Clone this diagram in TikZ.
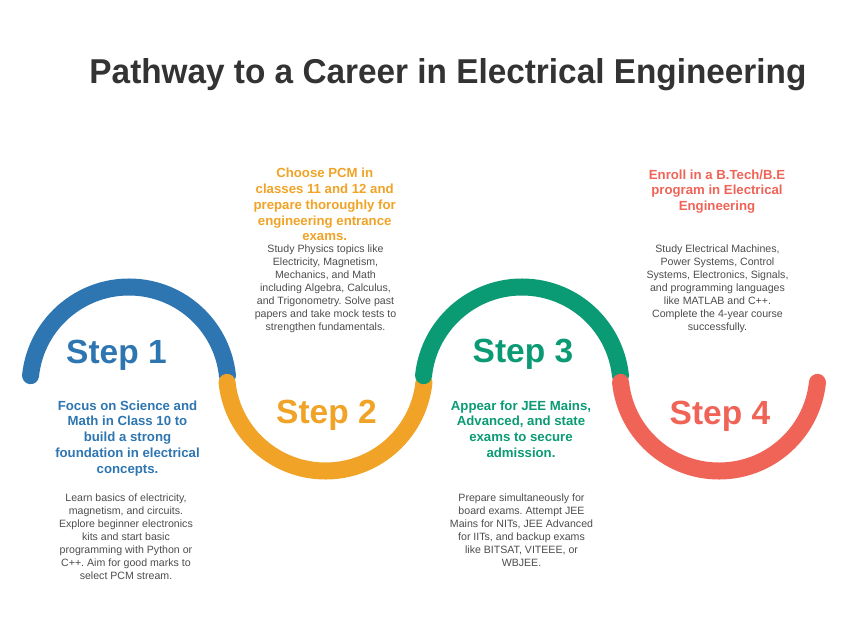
\documentclass[tikz,border=0pt]{standalone}
\usepackage{graphicx}
\usepackage{fontspec}
\setmainfont{Liberation Sans}
\frenchspacing
\definecolor{sblue}{RGB}{46,118,177}
\definecolor{sorange}{RGB}{240,163,38}
\definecolor{sgreen}{RGB}{11,155,116}
\definecolor{sred}{RGB}{240,100,88}
\definecolor{titlegray}{RGB}{51,51,51}
\definecolor{descgray}{RGB}{77,77,77}
\begin{document}
\begin{tikzpicture}[x=1pt,y=1pt,
 arcline/.style={line width=17pt,line cap=round},
 head/.style={font=\bfseries\fontsize{13.2}{15.8}\selectfont,align=center,anchor=north,inner sep=0pt},
 desc/.style={font=\fontsize{10.6}{13.1}\selectfont,align=center,anchor=north,inner sep=0pt,text=descgray},
 steplabel/.style={font=\bfseries\fontsize{33.5}{36}\selectfont,anchor=base,inner sep=0pt}]
\useasboundingbox (0,0) rectangle (844,-621);
\fill[white] (0,0) rectangle (844,-621);

\coordinate (c1) at (129,-386);
\coordinate (c2) at (325.5,-372);
\coordinate (c3) at (522,-386);
\coordinate (c4) at (719,-372);

\draw[arcline,sblue] ([shift={(174:99)}]c1) arc[start angle=174,end angle=6,radius=99];
\draw[arcline,sorange] ([shift={(186:99)}]c2) arc[start angle=186,end angle=354,radius=99];
\draw[arcline,sgreen] ([shift={(174:99)}]c3) arc[start angle=174,end angle=6,radius=99];
\draw[arcline,sred] ([shift={(186:99)}]c4) arc[start angle=186,end angle=354,radius=99];

\node[anchor=base,text=titlegray,inner sep=0pt] (title) at (448,-83)
  {\resizebox{717pt}{25pt}{\bfseries Pathway to a Career in Electrical Engineering}};

\node[steplabel,text=sblue] (s1) at (116.5,-363) {Step 1};
\node[steplabel,text=sorange] (s2) at (326.5,-423) {Step 2};
\node[steplabel,text=sgreen] (s3) at (523,-362) {Step 3};
\node[steplabel,text=sred] (s4) at (720,-424) {Step 4};

\node[head,text=sblue] (h1) at (127.5,-400.3) {Focus on Science and\\Math in Class 10 to\\build a strong\\foundation in electrical\\concepts.};
\node[desc] (d1) at (126,-493.2) {Learn basics of electricity,\\magnetism, and circuits.\\Explore beginner electronics\\kits and start basic\\programming with Python or\\C++. Aim for good marks to\\select PCM stream.};

\node[head,text=sorange] (h2) at (324.7,-168) {Choose PCM in\\classes 11 and 12 and\\prepare thoroughly for\\engineering entrance\\exams.};
\node[desc] (d2) at (325.5,-244.5) {Study Physics topics like\\Electricity, Magnetism,\\Mechanics, and Math\\including Algebra, Calculus,\\and Trigonometry. Solve past\\papers and take mock tests to\\strengthen fundamentals.};

\node[head,text=sgreen] (h3) at (521,-400.3) {Appear for JEE Mains,\\Advanced, and state\\exams to secure\\admission.};
\node[desc] (d3) at (521.5,-493.5) {Prepare simultaneously for\\board exams. Attempt JEE\\Mains for NITs, JEE Advanced\\for IITs, and backup exams\\like BITSAT, VITEEE, or\\WBJEE.};

\node[head,text=sred] (h4) at (717,-169.3) {Enroll in a B.Tech/B.E\\program in Electrical\\Engineering};
\node[desc] (d4) at (717.5,-244.5) {Study Electrical Machines,\\Power Systems, Control\\Systems, Electronics, Signals,\\and programming languages\\like MATLAB and C++.\\Complete the 4-year course\\successfully.};
\end{tikzpicture}
\end{document}
